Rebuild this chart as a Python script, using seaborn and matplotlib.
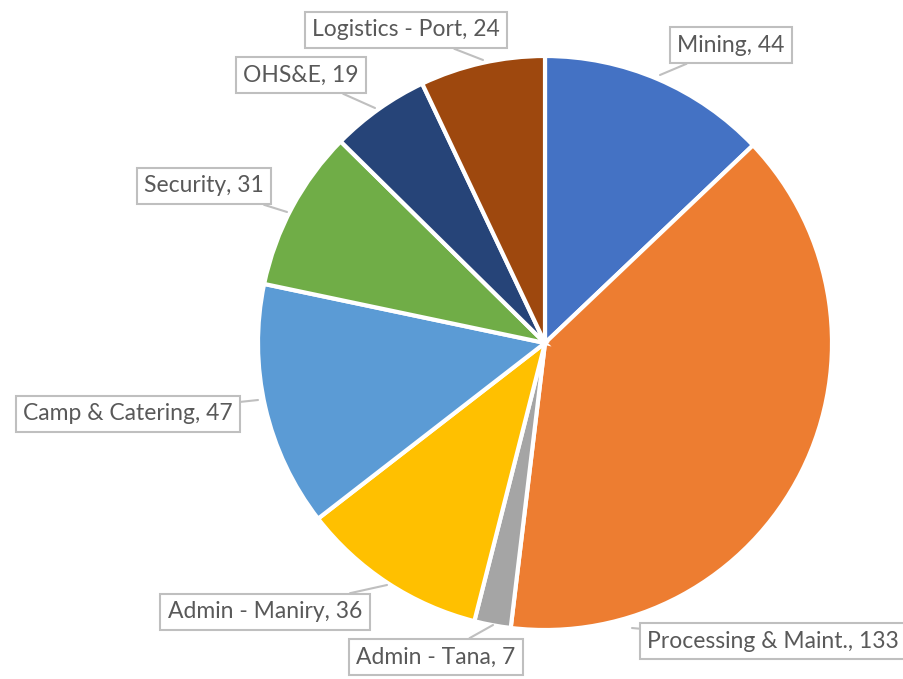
import matplotlib
matplotlib.use("Agg")
import matplotlib.pyplot as plt
import seaborn as sns

# data
departments = ["Mining", "Processing & Maint.", "Admin - Tana", "Admin - Maniry",
               "Camp & Catering", "Security", "OHS&E", "Logistics - Port"]
headcount = [44, 133, 7, 36, 47, 31, 19, 24]
colors = ["#4472C4", "#ED7D31", "#A5A5A5", "#FFC000",
          "#5B9BD5", "#70AD47", "#264478", "#9E480E"]

# label box centres and pointer tips (pixel coords, y from top)
label_pos = [(731, 45), (773, 641), (436, 657), (265, 612),
             (128, 414), (204, 186), (301, 75), (406, 30)]
tip_pos = [(660, 75), (632, 628), (493, 625), (387, 585),
           (258, 400), (287, 212), (375, 108), (483, 60)]

sns.set_theme(style="white")
plt.rcParams["font.family"] = ["Lato", "DejaVu Sans"]

W, H = 904, 679
fig = plt.figure(figsize=(W / 100, H / 100), dpi=100)
ax = fig.add_axes([0, 0, 1, 1])

ax.pie(headcount, colors=colors, startangle=90, counterclock=False,
       center=(545, H - 343), radius=287,
       wedgeprops=dict(edgecolor="white", linewidth=3))

for name, val, (lx, ly), (tx, ty) in zip(departments, headcount, label_pos, tip_pos):
    ax.annotate(f"{name}, {val}", xy=(tx, H - ty), xytext=(lx, H - ly),
                ha="center", va="center", fontsize=16.5, color="#595959",
                bbox=dict(boxstyle="square,pad=0.33", fc="white", ec="#BFBFBF", lw=1.5),
                arrowprops=dict(arrowstyle="-", color="#BFBFBF", lw=1.5,
                                shrinkA=0, shrinkB=0))

ax.set_xlim(0, W)
ax.set_ylim(0, H)
ax.set_aspect("equal")
ax.axis("off")

fig.savefig("out.png", dpi=100)
